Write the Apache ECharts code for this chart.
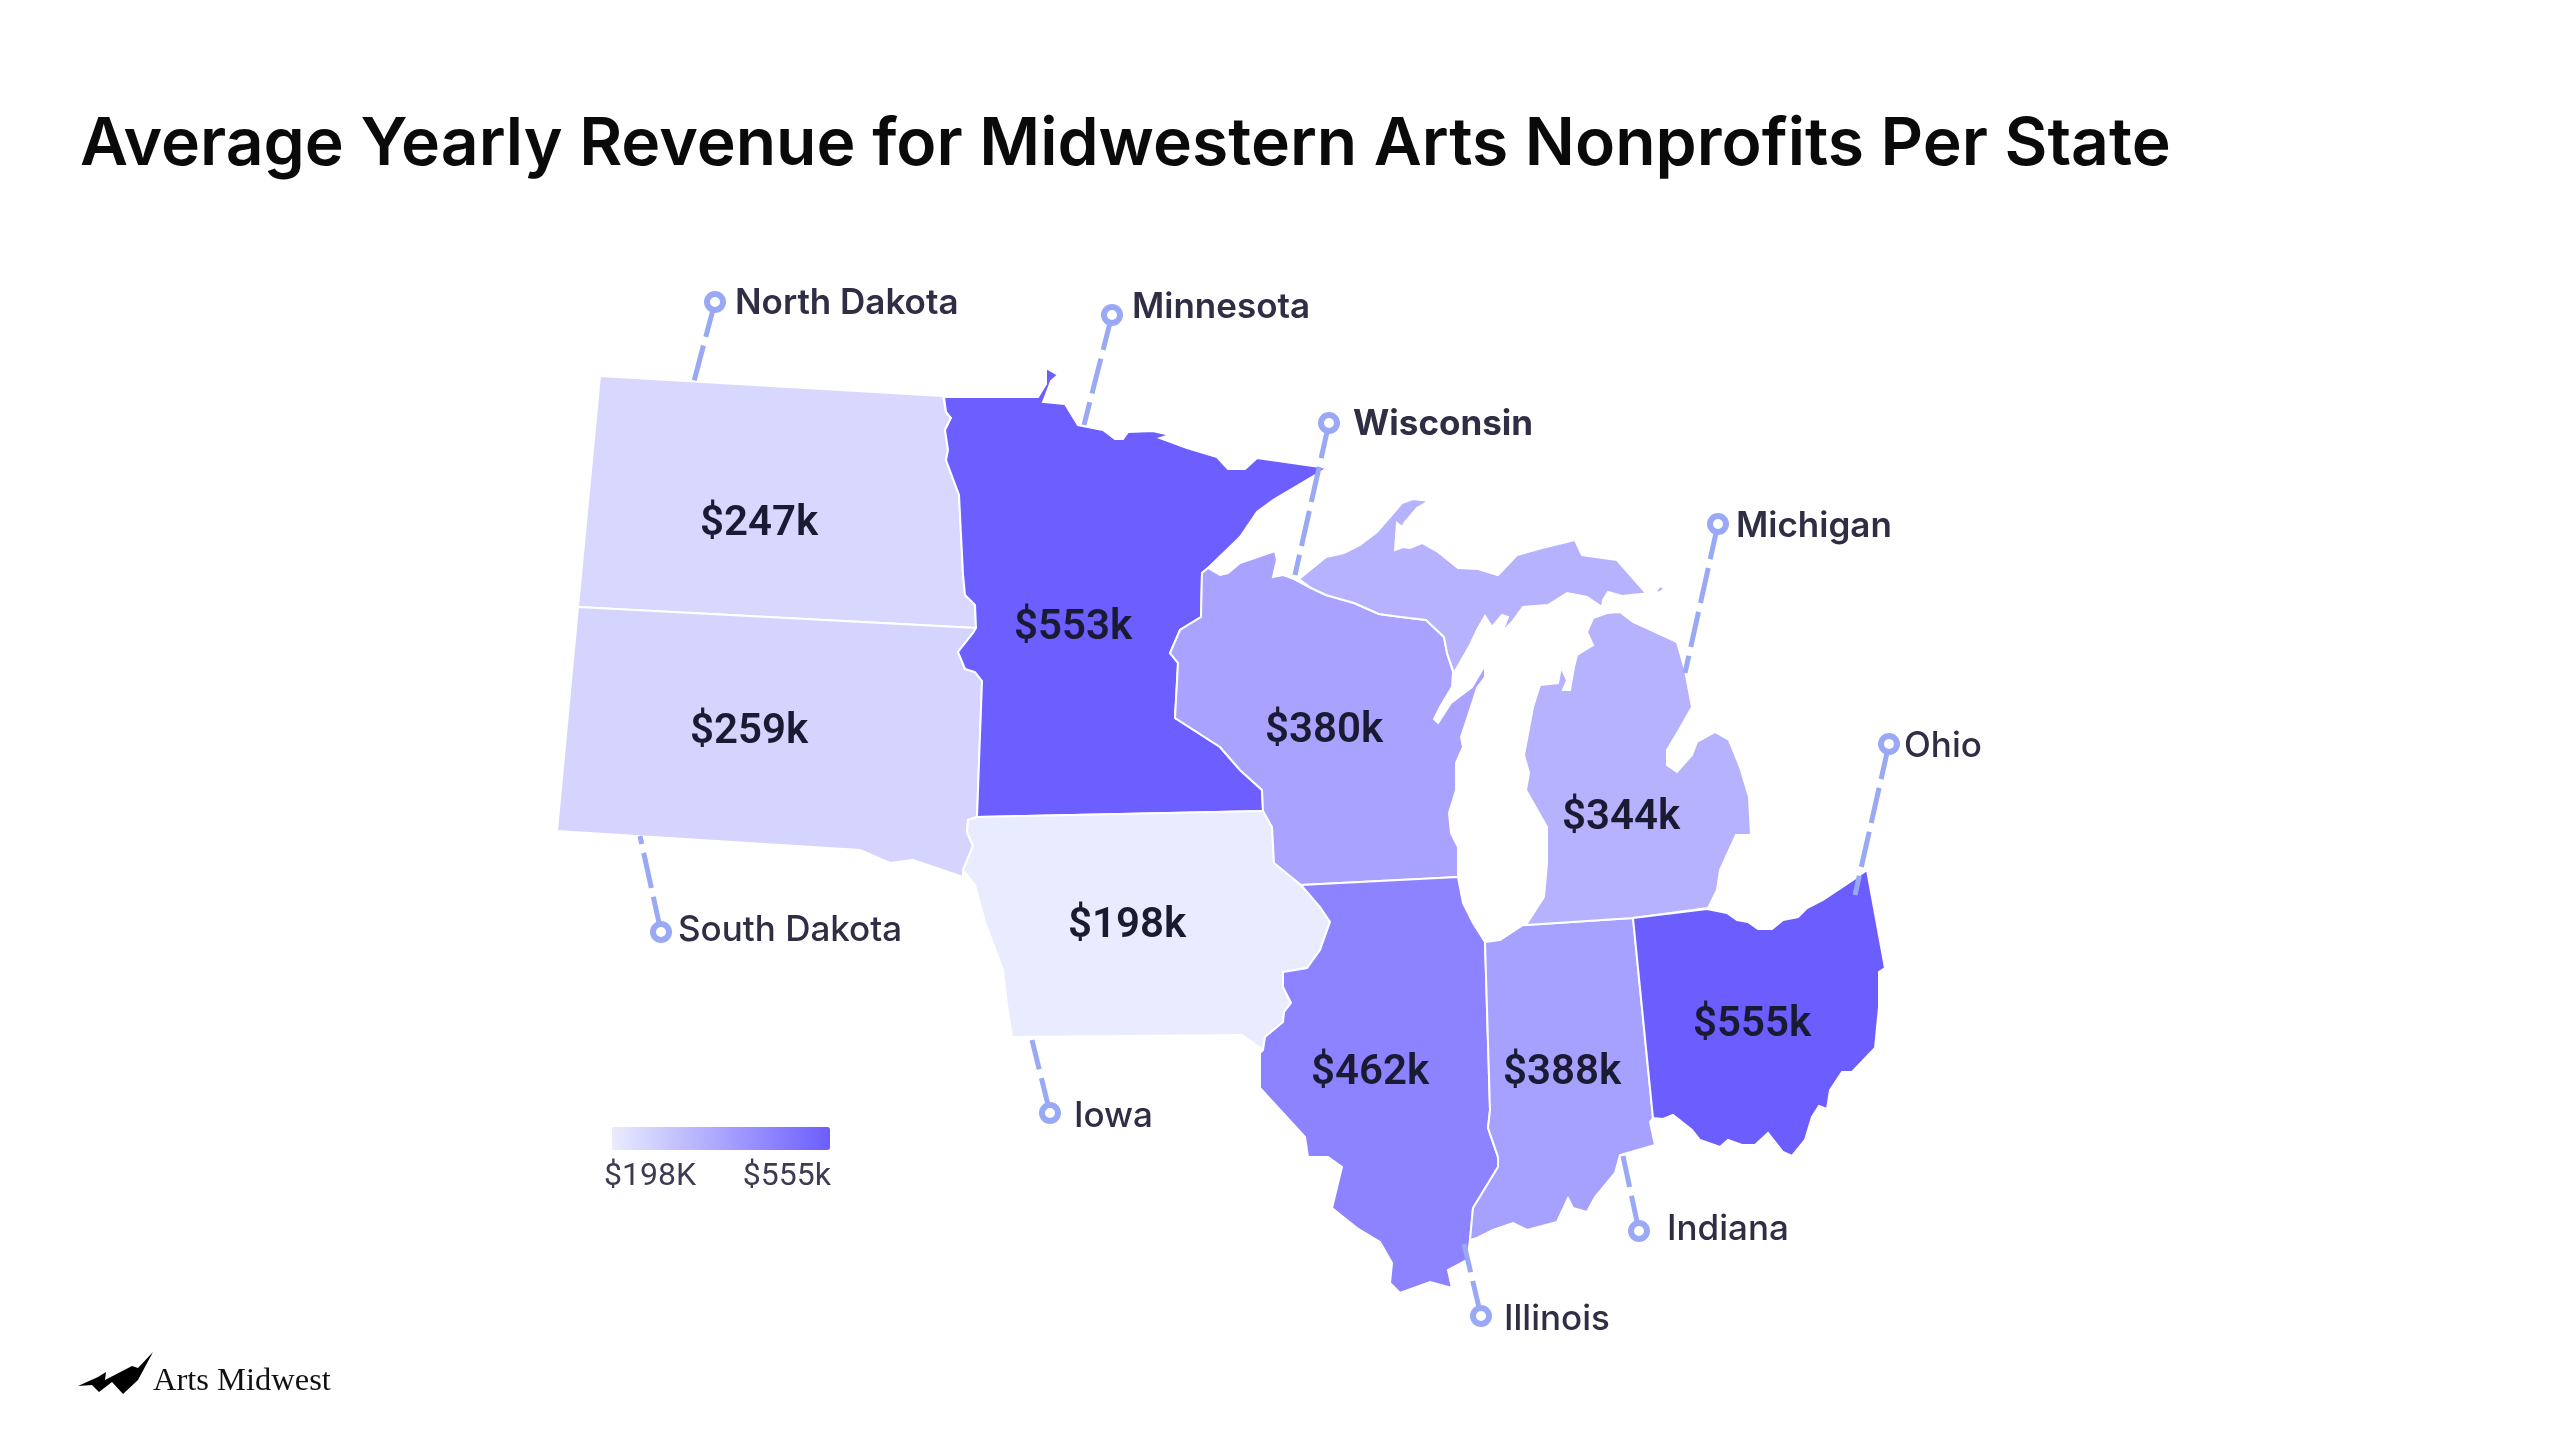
<!DOCTYPE html>
<html><head><meta charset="utf-8">
<script src="https://cdn.jsdelivr.net/npm/echarts@6/dist/echarts.min.js"></script>
<style>html,body{margin:0;background:#fff}#c{width:2560px;height:1440px}</style>
</head><body><div id="c"></div>
<script>
const titleText = 'Average Yearly Revenue for Midwestern Arts Nonprofits Per State';
const stateNames = ['North Dakota','South Dakota','Minnesota','Iowa','Wisconsin','Illinois','Indiana','Michigan','Ohio'];
const stateValues = [247,259,553,198,380,462,388,344,555];
const legendMinLabel = '$198K';
const legendMaxLabel = '$555k';
const pinNames = ['North Dakota','Minnesota','Wisconsin','Michigan','Ohio','South Dakota','Iowa','Illinois','Indiana'];

// Outline of each state, in the map's own units
const outlineND = [[600,376],[943,396],[946,412],[951,418],[945,430],[948,450],[946,460],[959,495],[963,574],[965,595],[975,605],[976,628],[578,607]];
const outlineSD = [[578,607],[976,628],[973,633],[958,652],[965,669],[975,672],[982,681],[977,817],[968,820],[967,832],[973,846],[963,870],[963,877],[913,860],[890,863],[860,850],[557,831]];
const outlineMN = [[944,397],[1038,397],[1046,384],[1046,368],[1058,375],[1051,381],[1045,397],[1043,402],[1065,404],[1078,425],[1103,430],[1115,439],[1123,439],[1128,432],[1153,431],[1170,435],[1160,438],[1187,448],[1217,457],[1228,469],[1245,469],[1257,458],[1327,468],[1273,500],[1257,512],[1240,537],[1208,568],[1202,573],[1201,617],[1180,630],[1170,653],[1178,663],[1175,718],[1220,747],[1240,770],[1262,790],[1263,811],[977,817],[982,681],[975,672],[965,669],[958,652],[973,633],[976,628],[975,605],[965,595],[963,574],[959,495],[946,460],[948,450],[945,430],[951,418],[946,412]];
const outlineIA = [[968,820],[977,817],[1263,811],[1272,827],[1274,863],[1301,885],[1320,907],[1330,922],[1320,950],[1307,968],[1283,972],[1283,987],[1291,1003],[1284,1012],[1283,1022],[1265,1037],[1263,1050],[1242,1035],[1012,1037],[1007,1005],[1003,970],[985,922],[975,885],[963,870],[973,846],[967,832]];
const outlineWI = [[1208,568],[1220,575],[1228,573],[1240,563],[1275,551],[1277,560],[1273,577],[1283,575],[1294,579],[1311,588],[1326,595],[1354,603],[1379,614],[1401,617],[1426,620],[1444,637],[1447,653],[1453,672],[1452,687],[1440,707],[1434,719],[1438,723],[1451,703],[1472,687],[1485,665],[1485,677],[1477,688],[1469,713],[1461,737],[1463,747],[1456,763],[1456,790],[1449,813],[1451,833],[1458,847],[1458,877],[1301,885],[1274,863],[1272,827],[1263,811],[1262,790],[1240,770],[1220,747],[1175,718],[1178,663],[1170,653],[1180,630],[1201,617],[1202,573]];
const outlineIL = [[1301,885],[1458,877],[1463,903],[1473,923],[1485,942],[1490,1110],[1488,1128],[1498,1157],[1498,1167],[1473,1208],[1470,1240],[1467,1260],[1448,1270],[1452,1288],[1430,1282],[1400,1293],[1390,1283],[1392,1263],[1380,1242],[1357,1228],[1332,1208],[1342,1167],[1328,1157],[1308,1157],[1305,1137],[1260,1088],[1260,1053],[1263,1050],[1265,1037],[1283,1022],[1284,1012],[1291,1003],[1283,987],[1283,972],[1307,968],[1320,950],[1330,922],[1320,907]];
const outlineIN = [[1485,942],[1500,940],[1523,925],[1633,918],[1653,1118],[1650,1122],[1655,1145],[1620,1155],[1615,1173],[1595,1197],[1587,1212],[1573,1208],[1568,1198],[1557,1222],[1527,1230],[1513,1223],[1493,1230],[1477,1238],[1470,1240],[1473,1208],[1498,1167],[1498,1157],[1488,1128],[1490,1110]];
const outlineMIupper = [[1299,579],[1326,557],[1344,553],[1360,545],[1377,532],[1402,503],[1413,499],[1429,501],[1417,508],[1405,522],[1402,527],[1397,523],[1395,550],[1403,547],[1410,548],[1422,543],[1438,552],[1458,568],[1478,569],[1498,575],[1517,555],[1542,548],[1575,540],[1582,555],[1617,560],[1645,592],[1655,592],[1660,586],[1665,588],[1660,592],[1622,596],[1608,592],[1603,600],[1602,607],[1587,597],[1567,593],[1548,605],[1523,607],[1512,622],[1502,632],[1508,617],[1502,615],[1492,627],[1485,616],[1477,630],[1470,645],[1454,673],[1447,653],[1444,637],[1426,620],[1401,617],[1379,614],[1354,603],[1326,595],[1311,588]];
const outlineMIlower = [[1607,613],[1620,612],[1633,622],[1677,642],[1685,670],[1692,707],[1679,730],[1667,750],[1667,765],[1677,772],[1692,755],[1697,742],[1715,732],[1729,740],[1740,767],[1749,797],[1751,835],[1736,835],[1720,870],[1717,890],[1708,908],[1633,918],[1526,925],[1544,897],[1547,863],[1547,827],[1526,790],[1529,773],[1524,755],[1533,707],[1540,685],[1558,683],[1561,667],[1567,680],[1563,690],[1570,690],[1574,667],[1577,655],[1593,645],[1587,632],[1593,618]];
const outlineOH = [[1633,918],[1707,909],[1727,913],[1737,920],[1748,922],[1758,929],[1772,929],[1783,920],[1798,917],[1807,908],[1823,900],[1853,880],[1867,870],[1885,968],[1879,972],[1879,1007],[1875,1048],[1852,1072],[1842,1072],[1830,1090],[1827,1109],[1819,1106],[1812,1117],[1805,1140],[1792,1156],[1783,1152],[1768,1133],[1755,1145],[1742,1145],[1728,1140],[1720,1147],[1700,1140],[1692,1130],[1673,1115],[1663,1119],[1653,1118]];
const stateOutlines = [[outlineND],[outlineSD],[outlineMN],[outlineIA],[outlineWI],[outlineIL],[outlineIN],[outlineMIupper,outlineMIlower],[outlineOH]];
const valueLabelAnchors = [[759,524],[749,732],[1073,628],[1127,926],[1324,731],[1370,1073],[1562,1073],[1621,818],[1752,1025]];

// Leader lines and their round ends, in the same map units
const pinEnds  = [[715,302],[1112,315],[1329,423],[1718,524],[1889,744],[661,932],[1050,1113],[1481,1316],[1639,1231]];
const pinFeet  = [[693,385],[1084,425],[1295,575],[1685,673],[1855,895],[640,836],[1032,1040],[1464,1244],[1623,1156]];
const pinGaps  = [9,9,13,7,4,6,13,12,17];
const pinRise  = [1,-8,1,2,2,-2,3,3,-2];
const pinWeights = [600,600,700,600,500,500,500,500,500];

const features = stateNames.map((name,i)=>({
  type:'Feature',
  properties:{name, cp:valueLabelAnchors[i]},
  geometry:{type:'MultiPolygon',coordinates:stateOutlines[i].map(r=>{const c=r.slice();c.push(r[0]);return [c];})}
}));
echarts.registerMap('midwest',{type:'FeatureCollection',features});

const box = {left:557,top:368,width:1885-557,height:1293-368};
const identity = {project:p=>[p[0],p[1]],unproject:p=>[p[0],p[1]]};
const chart = echarts.init(document.getElementById('c'),null,{renderer:'canvas'});
chart.setOption({
  animation:false,
  backgroundColor:'#ffffff',
  title:{text:titleText,left:80,top:112,padding:0,textStyle:{fontFamily:'Inter',fontSize:66,fontWeight:600,color:'#0a0a0a'}},
  visualMap:{type:'continuous',show:true,min:198,max:555,seriesIndex:0,orient:'horizontal',left:612,top:1127,itemWidth:23,itemHeight:218,padding:0,text:null,showLabel:false,calculable:false,hoverLink:false,realtime:false,inRange:{color:['#e9ecfe','#6c5dff']},textStyle:{fontSize:0,color:'rgba(0,0,0,0)'}},
  geo:{map:'midwest',projection:identity,...box,silent:true,roam:false,z:0,
    itemStyle:{areaColor:'rgba(0,0,0,0)',borderWidth:0,borderColor:'rgba(0,0,0,0)'},label:{show:false}},
  series:[
    {type:'map',map:'midwest',projection:identity,...box,roam:false,selectedMode:false,showLegendSymbol:false,z:2,
      data:stateNames.map((name,i)=>({name,value:stateValues[i]})),
      itemStyle:{borderColor:'#ffffff',borderWidth:2},
      emphasis:{disabled:true},
      label:{show:true,formatter:p=>'$'+p.value+'k',fontFamily:'Roboto',fontSize:42,fontWeight:600,color:'#1a1a33'}},
    {type:'lines',coordinateSystem:'geo',geoIndex:0,z:5,silent:true,
      lineStyle:{color:'#9aa9f5',width:5,type:[36,9],opacity:1},
      data:pinNames.map((n,i)=>({coords:[pinEnds[i],pinFeet[i]]}))},
    {type:'scatter',coordinateSystem:'geo',geoIndex:0,z:6,silent:true,symbol:'circle',symbolSize:16,
      itemStyle:{color:'#ffffff',borderColor:'#9aa9f5',borderWidth:6,opacity:1},
      data:pinNames.map((name,i)=>({name,value:pinEnds[i],
        label:{show:true,position:'right',distance:pinGaps[i],offset:[0,pinRise[i]],formatter:'{b}',fontFamily:'Inter',fontSize:35,fontWeight:pinWeights[i],color:'#2f2e45'}}))}
  ],
  graphic:[
    {type:'text',left:604,top:1161,style:{text:legendMinLabel,font:'400 32px Roboto',fill:'#3c3b52'}},
    {type:'text',right:2560-831,top:1161,style:{text:legendMaxLabel,font:'400 32px Roboto',fill:'#3c3b52'}},
    {type:'polygon',shape:{points:[[78,1386],[98,1377],[106,1372],[105,1380],[132,1366],[138,1368],[153,1352],[138,1380],[123,1394],[112,1382],[99,1392],[92,1385]]},style:{fill:'#000'}},
    {type:'text',left:153,top:1365,style:{text:'Arts Midwest',font:'400 32.5px "Liberation Serif"',fill:'#111'}}
  ]
});
</script></body></html>
